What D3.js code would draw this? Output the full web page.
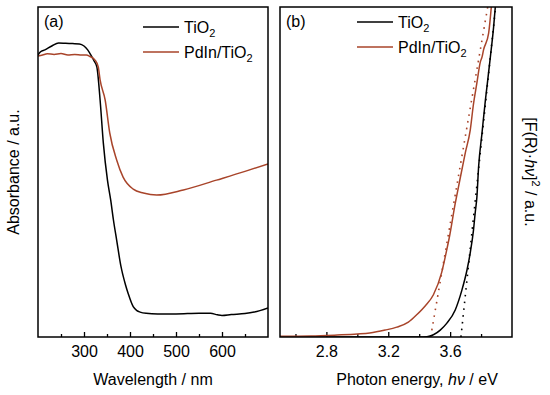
<!DOCTYPE html>
<html><head><meta charset="utf-8">
<script src="https://cdn.jsdelivr.net/npm/d3@7"></script>
<style>body{margin:0;background:#fff}svg{display:block;font-family:Arial,"Liberation Sans",sans-serif}</style>
</head><body><svg id="c" width="550" height="395"></svg>
<script>
// Panel (a): absorbance spectra
const tio2Wavelength = [200,205,215,230,245,260,275,290,300,308,316,322,328,335,342,351,358,364,371,380,390,396,407,415,422,435,460,500,550,575,590,600,620,650,670,700];
const tio2Absorbance = [0.94,0.95,0.957,0.97,0.98,0.979,0.978,0.977,0.97,0.957,0.937,0.92,0.9,0.79,0.647,0.523,0.457,0.39,0.323,0.238,0.175,0.145,0.101,0.088,0.083,0.079,0.077,0.077,0.079,0.079,0.074,0.072,0.075,0.078,0.083,0.097];
const pdinWavelength = [200,210,220,235,250,265,280,295,305,313,324,331,335,346,356,371,385,407,429,458,516,588,650,700];
const pdinAbsorbance = [0.937,0.94,0.944,0.942,0.945,0.94,0.942,0.94,0.94,0.935,0.923,0.9,0.857,0.79,0.68,0.59,0.533,0.493,0.48,0.473,0.49,0.523,0.552,0.577];
const waveTicks = [300,400,500,600];
const waveMinor = [250,350,450,550,650];

// Panel (b): Tauc plot
const tio2Energy = [2.5,3.3,3.4,3.45,3.536,3.579,3.633,3.676,3.709,3.73,3.751,3.762,3.773,3.784,3.806,3.828,3.838,3.86,3.881,3.892,3.9];
const tio2Tauc = [0,0,0,0.001,0.021,0.042,0.082,0.142,0.203,0.255,0.324,0.376,0.424,0.515,0.618,0.718,0.758,0.848,0.939,1.0,1.036];
const pdinEnergy = [2.5,2.7,2.87,3.0,3.08,3.18,3.255,3.33,3.385,3.44,3.492,3.545,3.578,3.594,3.633,3.654,3.698,3.73,3.751,3.773,3.795,3.806,3.816,3.849,3.87];
const pdinTauc = [0.002,0.003,0.006,0.009,0.012,0.021,0.03,0.045,0.068,0.095,0.128,0.195,0.264,0.3,0.405,0.455,0.558,0.627,0.706,0.77,0.833,0.848,0.87,0.921,1.021];
const tio2Fit = [[3.670,0],[3.894,1.0]];
const pdinFit = [[3.474,0],[3.843,1.0]];
const energyTicks = [2.8,3.2,3.6];
const energyMinor = [2.6,3.0,3.4,3.8];

const legendLabels = ["TiO", "PdIn/TiO"];
const BROWN = "#a8442a";

const svg = d3.select("#c");
const yTop = 7, yBot = 337;
const xA = d3.scaleLinear().domain([200,700]).range([38,268]);
const yA = d3.scaleLinear().domain([0,1.1]).range([yBot,yTop]);
const xB = d3.scaleLinear().domain([2.5,4.0]).range([280,512]);
const yB = d3.scaleLinear().domain([0,1]).range([yBot,yTop]);

const defs = svg.append("defs");
function clip(id, x0, x1){
  defs.append("clipPath").attr("id",id).append("rect").attr("x",x0).attr("y",yTop).attr("width",x1-x0).attr("height",yBot-yTop);
}
clip("ca",38,268); clip("cb",280,512);

function panel(x, y, major, minor, fmt, cid, series, fits, label, legY, legX){
  const g = svg.append("g");
  const [x0,x1] = x.range();
  g.append("g").attr("transform",`translate(0,${yBot})`)
    .call(d3.axisBottom(x).tickValues(major).tickSize(-5).tickPadding(9).tickFormat(fmt))
    .call(s=>{s.select(".domain").remove();s.selectAll("line").attr("stroke","#000").attr("stroke-width",1.3);
      s.selectAll("text").attr("font-size",16).attr("fill","#000");});
  g.append("g").attr("transform",`translate(0,${yBot})`)
    .call(d3.axisBottom(x).tickValues(minor).tickSize(-3).tickFormat(""))
    .call(s=>{s.select(".domain").remove();s.selectAll("line").attr("stroke","#000").attr("stroke-width",1.3);});
  g.selectAll("g").attr("font-family","Arial, 'Liberation Sans', sans-serif");
  const cg = g.append("g").attr("clip-path",`url(#${cid})`);
  fits.forEach(f=>{
    cg.append("path").datum(f.pts).attr("fill","none").attr("stroke",f.color).attr("stroke-width",1.6)
      .attr("stroke-dasharray","1.6,5.2").attr("d",d3.line().x(d=>x(d[0])).y(d=>y(d[1])));
  });
  series.forEach(s=>{
    const pts = s.xs.map((v,i)=>[v,s.ys[i]]);
    cg.append("path").datum(pts).attr("fill","none").attr("stroke",s.color).attr("stroke-width",1.5)
      .attr("d",d3.line().curve(d3.curveMonotoneX).x(d=>x(d[0])).y(d=>y(d[1])));
  });
  g.append("rect").attr("x",x0).attr("y",yTop).attr("width",x1-x0).attr("height",yBot-yTop)
    .attr("fill","none").attr("stroke","#000").attr("stroke-width",1.5);
  g.append("text").attr("x",x0+6).attr("y",27).attr("font-size",16).text(label);
  series.forEach((s,i)=>{
    const ly = legY + i*25;
    g.append("line").attr("x1",legX).attr("x2",legX+36).attr("y1",ly).attr("y2",ly).attr("stroke",s.color).attr("stroke-width",1.5);
    const t = g.append("text").attr("x",legX+41).attr("y",ly+6).attr("font-size",16);
    t.append("tspan").text(legendLabels[i]);
    t.append("tspan").attr("font-size",11).attr("dy",4).text("2");
  });
}

panel(xA, yA, waveTicks, waveMinor, d3.format("d"), "ca",
  [{xs:tio2Wavelength, ys:tio2Absorbance, color:"#000"},{xs:pdinWavelength, ys:pdinAbsorbance, color:BROWN}],
  [], "(a)", 27, 143);
panel(xB, yB, energyTicks, energyMinor, d3.format(".1f"), "cb",
  [{xs:tio2Energy, ys:tio2Tauc, color:"#000"},{xs:pdinEnergy, ys:pdinTauc, color:BROWN}],
  [{pts:tio2Fit, color:"#000"},{pts:pdinFit, color:BROWN}], "(b)", 22, 357);

svg.append("text").attr("x",153).attr("y",385).attr("text-anchor","middle").attr("font-size",16).text("Wavelength / nm");
const xt = svg.append("text").attr("x",417).attr("y",385).attr("text-anchor","middle").attr("font-size",16);
xt.append("tspan").text("Photon energy, ");
xt.append("tspan").attr("font-style","italic").text("hν");
xt.append("tspan").text(" / eV");
svg.append("text").attr("transform","translate(13,172) rotate(-90)").attr("dy","0.35em").attr("text-anchor","middle").attr("font-size",16).text("Absorbance / a.u.");
const yt = svg.append("text").attr("transform","translate(531,172) rotate(90)").attr("dy","0.35em").attr("text-anchor","middle").attr("font-size",16);
yt.append("tspan").text("[F(R)·");
yt.append("tspan").attr("font-style","italic").text("hν");
yt.append("tspan").text("]");
yt.append("tspan").attr("font-size",11).attr("dy",-7).text("2");
yt.append("tspan").attr("dy",7).text(" / a.u.");
</script></body></html>
